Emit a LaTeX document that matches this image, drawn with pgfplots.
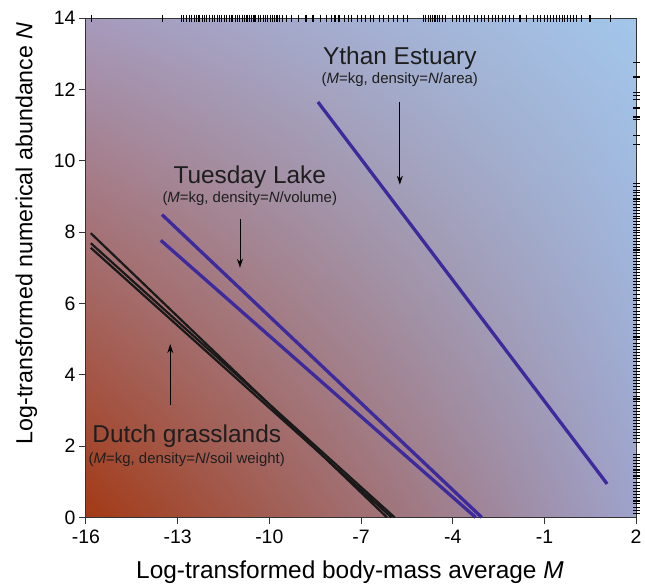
\documentclass[border=0pt]{standalone}
\usepackage{pgfplots}
\pgfplotsset{compat=1.18}
\usepackage{fontspec}
\setmainfont{Liberation Sans}
\usetikzlibrary{arrows.meta,shadings}

\definecolor{bgBL}{RGB}{163,58,22}
\definecolor{bgTL}{RGB}{166,154,188}
\definecolor{bgBR}{RGB}{158,162,203}
\definecolor{bgTR}{RGB}{162,198,234}
\definecolor{tlblue}{RGB}{61,43,158}
\definecolor{txt}{RGB}{30,30,30}

\newcommand{\ttl}{\fontsize{24.5}{27}\selectfont}
\newcommand{\sub}{\fontsize{15}{17}\selectfont}

\begin{document}
\begin{tikzpicture}
\begin{axis}[
  scale only axis, width=550bp, height=499bp,
  xmin=-16, xmax=2, ymin=0, ymax=14,
  xtick={-16,-13,-10,-7,-4,-1,2}, ytick={0,2,4,6,8,10,12,14},
  tick align=outside, xtick pos=bottom, ytick pos=left,
  major tick length=7bp,
  axis line style={line width=0.9pt, black!80},
  tick style={black!80, line width=0.8pt},
  ticklabel style={font=\fontsize{19.5}{21}\selectfont},
  xticklabel style={yshift=-2bp},
  /pgf/number format/assume math mode=true,
  xlabel={Log-transformed body-mass average \textit{M}},
  ylabel={Log-transformed numerical abundance \textit{N}},
  every axis x label/.style={at={(axis description cs:0.48,-0.11)}, anchor=center, font=\fontsize{24.5}{27}\selectfont},
  every axis y label/.style={at={(axis description cs:-0.108,0.569)}, rotate=90, anchor=center, font=\fontsize{23.3}{26}\selectfont},
  axis background/.style={shade, lower left=bgBL, upper left=bgTL, lower right=bgBR, upper right=bgTR},
  clip=false,
]
% page extent of the reference
\path (axis cs:-18.81,-1.94) (axis cs:2.29,14.51);

% Dutch grasslands
\addplot[black!90, line width=2.2bp] coordinates {(-15.84,7.97) (-6.15,0)};
\addplot[black!90, line width=2.2bp] coordinates {(-15.84,7.69) (-5.90,0)};
\addplot[black!90, line width=2.2bp] coordinates {(-15.84,7.56) (-6.00,0)};
% Tuesday Lake
\addplot[tlblue, line width=3.3bp] coordinates {(-13.51,8.49) (-3.05,0)};
\addplot[tlblue, line width=3.3bp] coordinates {(-13.55,7.77) (-3.25,0)};
% Ythan Estuary
\addplot[tlblue, line width=3.3bp] coordinates {(-8.41,11.65) (1.05,0.94)};

% rug along the top (body masses)
\addplot[only marks, mark=|, mark size=3.5bp, black, mark options={line width=1.1bp}] coordinates {
(-15.82,14) (-13.50,14)
(-12.88,14) (-12.80,14) (-12.71,14) (-12.62,14) (-12.55,14) (-12.45,14) (-12.38,14) (-12.30,14)
(-12.20,14) (-12.12,14) (-12.05,14) (-11.95,14) (-11.86,14) (-11.78,14) (-11.70,14) (-11.62,14)
(-11.55,14) (-11.46,14) (-11.40,14) (-11.30,14) (-11.22,14) (-11.12,14) (-11.05,14) (-10.97,14)
(-10.88,14) (-10.80,14) (-10.73,14) (-10.65,14) (-10.58,14) (-10.50,14) (-10.44,14) (-10.36,14)
(-10.28,14) (-10.20,14) (-10.12,14) (-10.05,14) (-9.97,14) (-9.90,14) (-9.82,14) (-9.75,14)
(-9.66,14) (-9.57,14) (-9.45,14) (-9.27,14) (-9.04,14) (-8.80,14) (-8.57,14) (-8.33,14)
(-8.12,14) (-7.98,14) (-7.85,14) (-7.72,14) (-7.55,14) (-7.42,14) (-7.30,14) (-7.12,14)
(-6.98,14) (-6.85,14) (-6.70,14) (-6.58,14) (-6.40,14) (-6.25,14) (-6.10,14) (-5.95,14)
(-5.80,14) (-5.62,14) (-5.49,14)
(-4.95,14) (-4.88,14) (-4.80,14) (-4.72,14) (-4.65,14) (-4.58,14) (-4.50,14) (-4.42,14)
(-4.33,14) (-4.25,14) (-4.00,14) (-3.88,14) (-3.78,14) (-3.66,14) (-3.55,14) (-3.45,14)
(-3.30,14) (-3.18,14) (-3.05,14) (-2.95,14) (-2.82,14) (-2.70,14) (-2.60,14) (-2.50,14)
(-2.38,14) (-2.28,14) (-2.15,14) (-2.02,14) (-1.80,14) (-1.58,14) (-1.36,14)
(-1.24,14) (-1.12,14) (-1.00,14) (-0.90,14) (-0.80,14) (-0.70,14) (-0.60,14) (-0.52,14)
(-0.42,14) (-0.33,14) (-0.24,14) (-0.15,14) (-0.05,14) (0.05,14) (0.20,14) (0.49,14)
(1.15,14)
};
% rug along the right (abundances)
\addplot[only marks, mark=-, mark size=3.5bp, black, mark options={line width=1.1bp}] coordinates {
(2,12.76) (2,12.35) (2,11.92) (2,11.83) (2,11.71) (2,11.48) (2,11.23) (2,11.15) (2,10.70) (2,10.45)
(2,9.37) (2,9.27) (2,9.18) (2,9.10) (2,9.02) (2,8.93) (2,8.85) (2,8.78) (2,8.70) (2,8.61)
(2,8.52) (2,8.45) (2,8.38) (2,8.30) (2,8.21) (2,8.12) (2,8.05) (2,7.98) (2,7.90) (2,7.82)
(2,7.74) (2,7.66) (2,7.58) (2,7.50) (2,7.42) (2,7.35) (2,7.27) (2,7.18) (2,7.10) (2,7.02)
(2,6.95) (2,6.86) (2,6.78) (2,6.70) (2,6.62) (2,6.52) (2,6.45) (2,6.36) (2,6.25) (2,6.15)
(2,6.07) (2,5.98) (2,5.88) (2,5.78) (2,5.70) (2,5.60) (2,5.52) (2,5.42) (2,5.33) (2,5.25)
(2,5.15) (2,5.06) (2,4.98) (2,4.88) (2,4.80) (2,4.70) (2,4.62) (2,4.53) (2,4.45) (2,4.36)
(2,4.27) (2,4.18) (2,4.10) (2,4.01) (2,3.92) (2,3.84) (2,3.75) (2,3.66) (2,3.58) (2,3.50)
(2,3.40) (2,3.32) (2,3.24) (2,3.15) (2,3.06) (2,2.97) (2,2.88) (2,2.80) (2,2.72) (2,2.63)
(2,2.55) (2,2.46) (2,2.38) (2,2.30) (2,2.20) (2,2.11) (2,1.76) (2,1.68) (2,1.60) (2,1.50)
(2,1.42) (2,1.33) (2,1.25) (2,1.16) (2,1.08) (2,0.98) (2,0.90) (2,0.82) (2,0.72) (2,0.64)
(2,0.55) (2,0.46) (2,0.38) (2,0.28) (2,0.20) (2,0.12)
};

% labels and arrows
\node[txt, font=\ttl, anchor=base] at (axis cs:-5.73,12.69) {Ythan Estuary};
\node[txt, font=\sub, anchor=base] at (axis cs:-5.73,12.18) {(\textit{M}=kg, density=\textit{N}/area)};
\draw[black, line width=0.9bp, -{Stealth[length=9bp,width=6bp]}] (axis cs:-5.73,11.66) -- (axis cs:-5.73,9.33);

\node[txt, font=\ttl, anchor=base] at (axis cs:-10.64,9.35) {Tuesday Lake};
\node[txt, font=\sub, anchor=base] at (axis cs:-10.64,8.82) {(\textit{M}=kg, density=\textit{N}/volume)};
\draw[black, line width=0.9bp, -{Stealth[length=9bp,width=6bp]}] (axis cs:-10.96,8.37) -- (axis cs:-10.96,7.0);

\node[txt, font=\ttl, anchor=base] at (axis cs:-12.70,2.09) {Dutch grasslands};
\node[txt, font=\sub, anchor=base] at (axis cs:-12.70,1.52) {(\textit{M}=kg, density=\textit{N}/soil weight)};
\draw[black, line width=0.9bp, -{Stealth[length=9bp,width=6bp]}] (axis cs:-13.24,3.16) -- (axis cs:-13.24,4.86);
\end{axis}
\end{tikzpicture}
\end{document}
